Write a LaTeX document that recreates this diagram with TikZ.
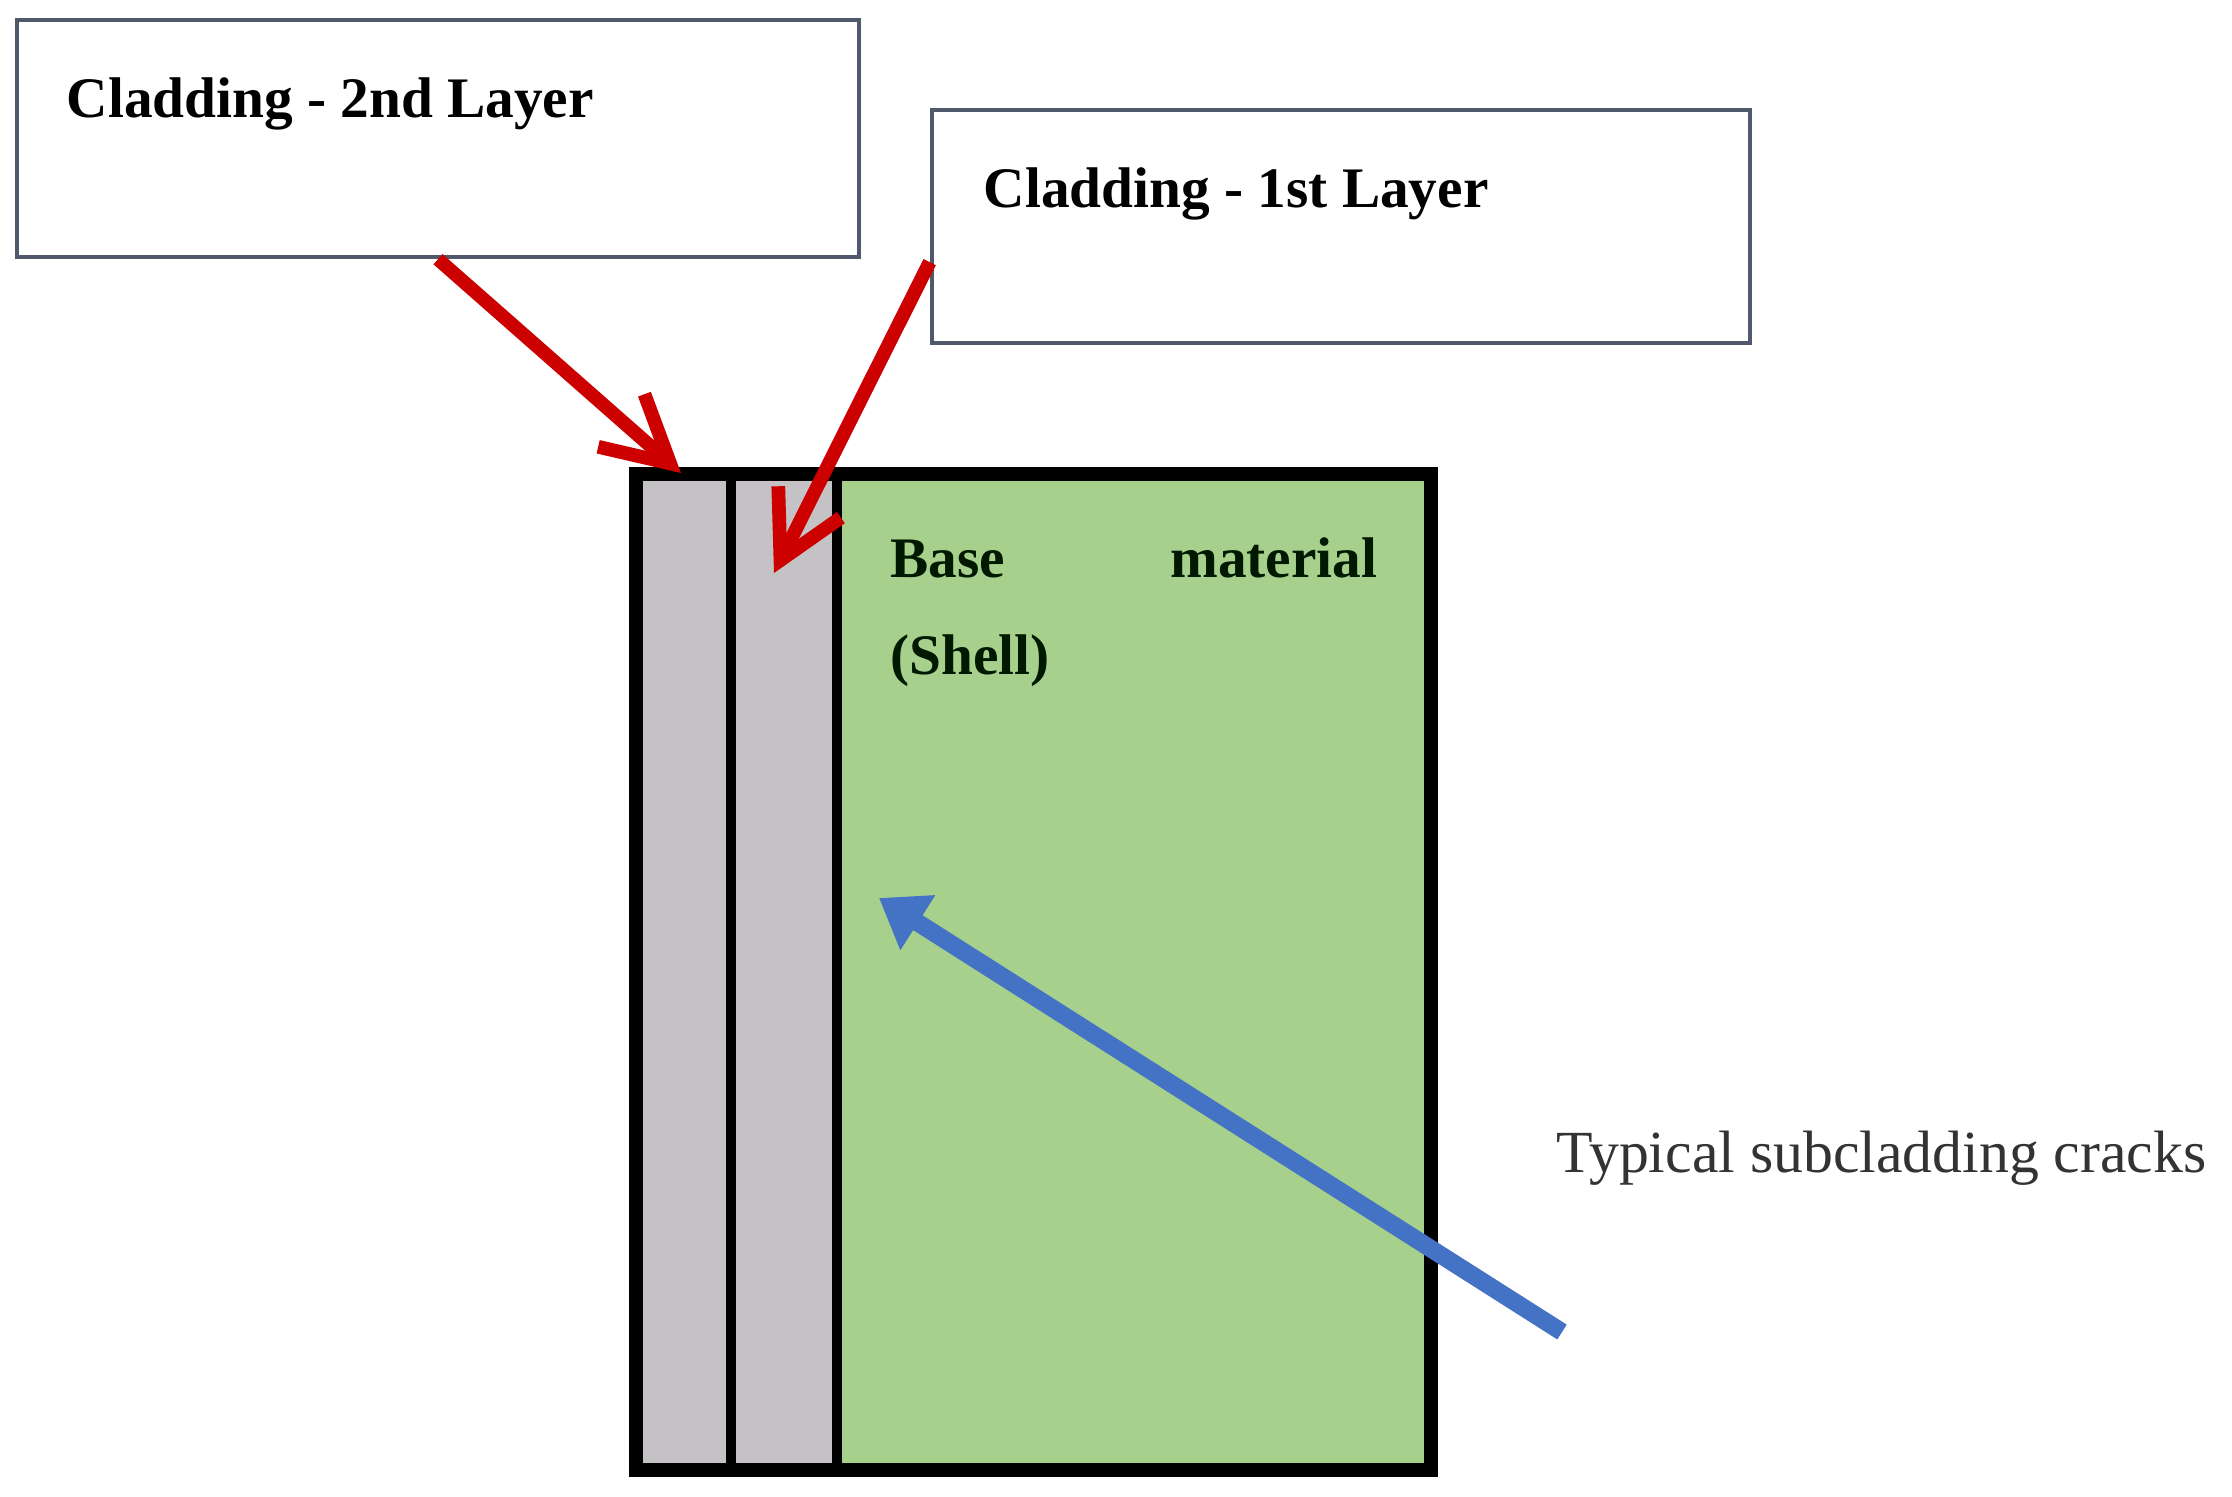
\documentclass[tikz,border=0pt]{standalone}
\usepackage{fontspec}
\setmainfont{Liberation Serif}
\usetikzlibrary{arrows.meta,calc}
\definecolor{boxline}{RGB}{80,88,108}
\definecolor{cladgray}{RGB}{196,194,196}
\definecolor{basegreen}{RGB}{168,208,141}
\definecolor{arrowred}{RGB}{205,0,0}
\definecolor{arrowblue}{RGB}{68,114,196}
\tikzset{
  labelbox/.style={draw=boxline, line width=1.2pt, fill=white, inner sep=0pt},
  boxtext/.style={font=\fontsize{16.3}{19}\selectfont\bfseries, inner sep=0pt, anchor=base west},
  basetext/.style={font=\fontsize{16.3}{19}\selectfont\bfseries, inner sep=0pt, text=black!90!green},
  cracktext/.style={font=\fontsize{17}{20}\selectfont, inner sep=0pt, anchor=base west, text=black!80},
  redarrow/.style={draw=arrowred, line width=3.9pt, -{Straight Barb[length=6.5mm, width=7mm, line width=3.9pt]}},
  bluearrow/.style={draw=arrowblue, line width=5pt, -{Triangle[length=4.6mm, width=6.2mm]}}
}
\begin{document}
\begin{tikzpicture}[x=0.01cm, y=-0.01cm]
\useasboundingbox (0,0) rectangle (2232,1496);
% label boxes
\node[labelbox, minimum width=8.42cm, minimum height=2.37cm] (b1) at (438,138.5) {};
\node[labelbox, minimum width=8.18cm, minimum height=2.33cm] (b2) at (1341,226.5) {};
\node[boxtext] (t1) at (66,117) {Cladding - 2nd Layer};
\node[boxtext] (t2) at (983,207) {Cladding - 1st Layer};
% layered block
\fill[cladgray] (636,474) rectangle (731,1470);
\fill[cladgray] (731,474) rectangle (837,1470);
\fill[basegreen] (837,474) rectangle (1431,1470);
\draw[line width=2.6pt] (731,474) -- (731,1470);
\draw[line width=3pt] (837,474) -- (837,1470);
\draw[line width=4.2pt] (636,474) rectangle (1431,1470);
\node[basetext, anchor=base west] (base) at (890,577) {Base};
\node[basetext, anchor=base east] (mat) at (1378,577) {material};
\node[basetext, anchor=base west] (shell) at (890,674) {(Shell)};
% arrow targets
\coordinate (tip2) at (681,473);
\coordinate (tip1) at (774,573);
\coordinate (crack) at (879,898);
\coordinate (tail) at (1562,1332);
\draw[redarrow] (b1.south) -- (tip2);
\draw[redarrow] ($(b2.south west)+(0,-83)$) -- (tip1);
\draw[bluearrow] (tail) -- (crack);
\node[cracktext] (ct) at (1556,1172) {Typical subcladding cracks};
\end{tikzpicture}
\end{document}
